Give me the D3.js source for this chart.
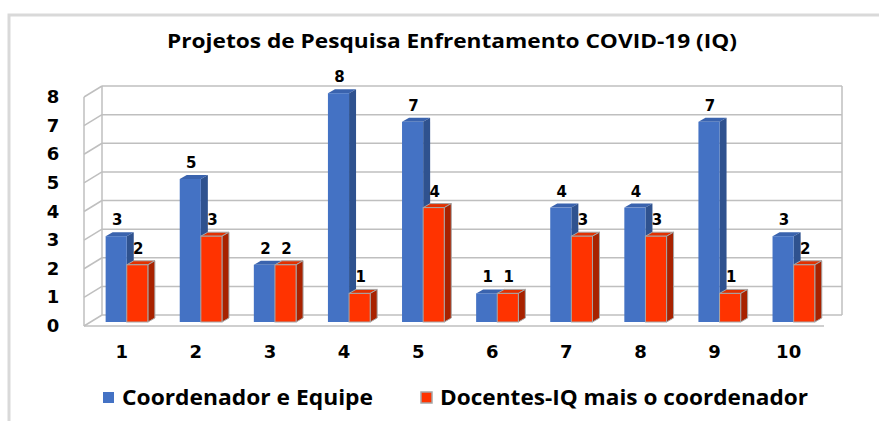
<!DOCTYPE html>
<html>
<head>
<meta charset="utf-8">
<script src="https://cdn.jsdelivr.net/npm/d3@7"></script>
<style>
  body { margin: 0; background: #fff; }
  svg { display: block; }
</style>
</head>
<body>
<div class="chart"></div>
<script>
const categories = ['1', '2', '3', '4', '5', '6', '7', '8', '9', '10'];
const coordEquipe = [3, 5, 2, 8, 7, 1, 4, 4, 7, 3];
const docentesIQ = [2, 3, 2, 1, 4, 1, 3, 3, 1, 2];
const seriesNames = ['Coordenador e Equipe', 'Docentes-IQ mais o coordenador'];
const yTicks = [0, 1, 2, 3, 4, 5, 6, 7, 8];

const width = 879, height = 421;

// 3d offsets
const wallDx = 18, wallDy = 11;
const barDx = 7, barDy = 4;

const svg = d3.select('.chart')
    .append('svg')
    .attr('width', width)
    .attr('height', height)
    .attr('viewBox', [0, 0, width, height]);

// outer frame
svg.append('path')
    .attr('d', 'M9,421 V15 H879')
    .attr('fill', 'none')
    .attr('stroke', '#d9d9d9')
    .attr('stroke-width', 3);

svg.append('text')
    .attr('x', 452)
    .attr('y', 43)
    .attr('text-anchor', 'middle')
    .attr('dominant-baseline', 'middle')
    .attr('textLength', 570)
    .attr('lengthAdjust', 'spacingAndGlyphs')
    .style('font-family', '"Open Sans", sans-serif')
    .style('font-weight', 'bold')
    .style('font-size', '20px')
    .attr('fill', '#000')
    .text('Projetos de Pesquisa Enfrentamento COVID-19 (IQ)');

const wallLeft = 102, wallRight = 842;
const yWall = d3.scaleLinear().domain([0, 8]).range([315, 86]);
const yBar = d3.scaleLinear().domain([0, 8]).range([322, 93.2]);

const x = d3.scaleBand()
    .domain(categories)
    .range([89.7, 830.7])
    .paddingInner(0.43)
    .paddingOuter(0.215);

const xs = d3.scaleBand()
    .domain(seriesNames)
    .range([0, x.bandwidth()]);

const gridColor = '#bfbfbf';

// back wall gridlines
svg.append('g')
    .selectAll('line')
    .data(yTicks)
    .join('line')
    .attr('x1', wallLeft)
    .attr('x2', wallRight)
    .attr('y1', d => yWall(d))
    .attr('y2', d => yWall(d))
    .attr('stroke', gridColor)
    .attr('stroke-width', 1.5);

// side wall diagonals
svg.append('g')
    .selectAll('line')
    .data(yTicks)
    .join('line')
    .attr('x1', wallLeft - wallDx)
    .attr('x2', wallLeft)
    .attr('y1', d => yWall(d) + wallDy)
    .attr('y2', d => yWall(d))
    .attr('stroke', gridColor)
    .attr('stroke-width', 1.5);

// verticals + floor edge
svg.append('g')
    .selectAll('line')
    .data([
        [wallLeft, yWall(8), wallLeft, yWall(0)],
        [wallRight, yWall(8), wallRight, yWall(0)],
        [wallLeft - wallDx, yWall(8) + wallDy, wallLeft - wallDx, yWall(0) + wallDy],
        [wallLeft - wallDx, yWall(0) + wallDy, wallRight - wallDx, yWall(0) + wallDy]
    ])
    .join('line')
    .attr('x1', d => d[0]).attr('y1', d => d[1])
    .attr('x2', d => d[2]).attr('y2', d => d[3])
    .attr('stroke', gridColor)
    .attr('stroke-width', 1.5);

// y axis labels
svg.append('g')
    .selectAll('text')
    .data(yTicks)
    .join('text')
    .attr('x', 53)
    .attr('y', d => yWall(d) + wallDy + 1)
    .attr('text-anchor', 'middle')
    .attr('dominant-baseline', 'middle')
    .style('font-family', '"DejaVu Sans", sans-serif')
    .style('font-weight', 'bold')
    .style('font-size', '18px')
    .text(d => d);

// category labels
svg.append('g')
    .selectAll('text')
    .data(categories)
    .join('text')
    .attr('x', d => x(d) + x.bandwidth() / 2 - 5)
    .attr('y', 353)
    .attr('text-anchor', 'middle')
    .attr('dominant-baseline', 'middle')
    .style('font-family', '"DejaVu Sans", sans-serif')
    .style('font-weight', 'bold')
    .style('font-size', '18px')
    .text(d => d);

const styles = {
    'Coordenador e Equipe': { front: '#4472c4', side: '#2f528f', top: '#3a63ae', stroke: 'none', legendW: 251 },
    'Docentes-IQ mais o coordenador': { front: '#ff3300', side: '#a82200', top: '#e23000', stroke: '#a6a6a6', legendW: 368 }
};

const bars = [];
categories.forEach((c, i) => {
    bars.push({ cat: c, series: seriesNames[0], value: coordEquipe[i] });
    bars.push({ cat: c, series: seriesNames[1], value: docentesIQ[i] });
});

const barG = svg.append('g')
    .selectAll('g')
    .data(bars)
    .join('g');

barG.each(function (d) {
    const g = d3.select(this);
    const st = styles[d.series];
    const x0 = x(d.cat) + xs(d.series);
    const w = xs.bandwidth();
    const y0 = yBar(d.value);
    const yb = yBar(0);

    g.append('polygon')
        .attr('points', [[x0, y0], [x0 + barDx, y0 - barDy], [x0 + w + barDx, y0 - barDy], [x0 + w, y0]].join(' '))
        .attr('fill', st.top)
        .attr('stroke', st.stroke)
        .attr('stroke-width', 1);

    g.append('polygon')
        .attr('points', [[x0 + w, y0], [x0 + w + barDx, y0 - barDy], [x0 + w + barDx, yb - barDy], [x0 + w, yb]].join(' '))
        .attr('fill', st.side)
        .attr('stroke', st.stroke)
        .attr('stroke-width', 1);

    g.append('rect')
        .attr('x', x0)
        .attr('y', y0)
        .attr('width', w)
        .attr('height', yb - y0)
        .attr('fill', st.front)
        .attr('stroke', st.stroke)
        .attr('stroke-width', 1);
});

// value labels
svg.append('g')
    .selectAll('text')
    .data(bars)
    .join('text')
    .attr('x', d => x(d.cat) + xs(d.series) + xs.bandwidth() / 2 + 1)
    .attr('y', d => yBar(d.value) - 11)
    .attr('text-anchor', 'middle')
    .style('font-family', '"DejaVu Sans", sans-serif')
    .style('font-weight', 'bold')
    .style('font-size', '15px')
    .text(d => d.value);

// legend
const legend = svg.append('g')
    .selectAll('g')
    .data(seriesNames)
    .join('g')
    .attr('transform', (d, i) => `translate(${[103, 421][i]},392)`);

legend.append('rect')
    .attr('width', 11)
    .attr('height', 11)
    .attr('fill', d => styles[d].front)
    .attr('stroke', d => styles[d].stroke)
    .attr('stroke-width', 1.5);

legend.append('text')
    .attr('x', 19)
    .attr('y', 7)
    .attr('dominant-baseline', 'middle')
    .attr('textLength', d => styles[d].legendW)
    .attr('lengthAdjust', 'spacingAndGlyphs')
    .style('font-family', '"Open Sans", sans-serif')
    .style('font-weight', 'bold')
    .style('font-size', '21px')
    .text(d => d);
</script>
</body>
</html>
